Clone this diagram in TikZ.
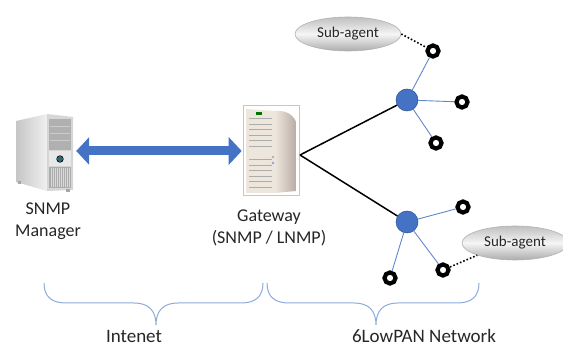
\documentclass[tikz,border=0pt]{standalone}
\usepackage{fontspec}
\setmainfont{Carlito}
\usetikzlibrary{arrows.meta,shapes.geometric}
\definecolor{netblue}{HTML}{4472C4}
\definecolor{netblueedge}{HTML}{2F528F}
\definecolor{bracecol}{HTML}{8EA9DB}
\definecolor{beige}{HTML}{EDE6DC}
\definecolor{beigedark}{HTML}{B9ADA6}
\definecolor{teal}{HTML}{1B6E78}
\definecolor{txt}{HTML}{262626}
\tikzset{
  label/.style={font=\fontsize{18}{22}\selectfont, text=txt, align=center, inner sep=0pt},
  biglabel/.style={label, font=\fontsize{19}{23}\selectfont},
  subagent/.style={ellipse, minimum width=106pt, minimum height=34pt, inner sep=0pt,
    draw=gray!60, line width=0.6pt, top color=gray!50, bottom color=gray!65, middle color=gray!8,
    font=\fontsize{15}{18}\selectfont, text=txt},
  ring/.style={circle, draw=black, line width=4.2pt, fill=white, minimum size=11pt, inner sep=0pt},
  hub/.style={circle, fill=netblue, draw=netblueedge, line width=0.5pt, minimum size=22pt, inner sep=0pt},
  uplink/.style={line width=1.5pt, black},
  leaf/.style={line width=0.9pt, netblue!85},
  agentlink/.style={line width=1.6pt, black, dotted},
  bracestroke/.style={line width=1pt, bracecol},
  box/.style={rectangle, inner sep=0pt, draw=none}
}
\begin{document}
\begin{tikzpicture}[x=1pt,y=-1pt]
\useasboundingbox (0,0) rectangle (563,347);

% ---------- SNMP manager (tower icon) ----------
\node[box, minimum width=58pt, minimum height=78pt] (mgr) at (44,152) {};
\shade[left color=gray!45, right color=gray!12] (16,121) -- (47,114) -- (47,191) -- (16,182) -- cycle;
\fill[gray!32] (47,114) -- (73,117) -- (73,190) -- (47,191) -- cycle;
\fill[gray!62] (49,119) rectangle (71,150);
\foreach \yy in {126,133,140} \draw[gray!40, line width=0.6pt] (50,\yy) -- (70,\yy);
\fill[gray!18] (49,151) rectangle (71,166);
\fill[teal] (60,159) circle (2.6);
\draw[black, line width=0.8pt] (60,159) circle (3.2);
\fill[gray!65] (49,167) rectangle (71,188);
\foreach \xx in {51,53,...,69} \draw[gray!30, line width=0.5pt] (\xx,168) -- (\xx,187);
\fill[gray!70] (18,181) rectangle (21,184);
\fill[gray!70] (66,189) rectangle (70,192);
\node[label] (mgrtxt) at (48,221) {SNMP\\Manager};

% ---------- Gateway (tower icon in frame) ----------
\node[box, minimum width=56pt, minimum height=90pt, draw=gray!45, fill=white, line width=0.6pt] (gw) at (271,150) {};
\fill[beige] (246,109) -- (275,111) -- (275,193) -- (246,193) -- cycle;
\shade[left color=beige, right color=beigedark] (275,111) .. controls (285,110) and (293,114) .. (296,122) -- (296,191) -- (275,193) -- cycle;
\fill[green!45!black] (256,112) rectangle (262,115);
\foreach \yy in {119,124.5,...,148} \draw[gray!65, line width=1pt] (249,\yy) -- (272,\yy);
\foreach \yy in {160,165.5,...,192} \draw[gray!65, line width=1pt] (249,\yy) -- (272,\yy);
\fill[gray!60] (273,157) circle (1.3);
\fill[blue!40] (273,163) circle (1.3);
\node[label] (gwtxt) at (269,228) {Gateway\\(SNMP / LNMP)};

% ---------- Manager <-> Gateway link ----------
\draw[line width=9pt, netblue, {Triangle[width=27pt,length=13pt]}-{Triangle[width=27pt,length=13pt]}]
  ([xshift=3pt,yshift=1pt]mgr.east) -- ([xshift=-1pt,yshift=1pt]mgr.east -| gw.west);

% ---------- 6LowPAN network ----------
\coordinate (gwport) at (300,155);
\node[hub] (h1) at (407,100) {};
\node[hub] (h2) at (407,222) {};
\node[ring] (r1) at (433,51) {};
\node[ring] (r2) at (462,102) {};
\node[ring] (r3) at (436,143) {};
\node[ring] (r4) at (463,207) {};
\node[ring] (r5) at (443,270) {};
\node[ring] (r6) at (390,278) {};
\node[subagent] (s1) at (348,34) {Sub-agent};
\node[subagent] (s2) at (515,243) {Sub-agent};

\draw[uplink] (gwport) -- (h1);
\draw[uplink] (gwport) -- (h2);
\draw[leaf] (h1) -- (r1);
\draw[leaf] (h1) -- (r2);
\draw[leaf] (h1) -- (r3);
\draw[leaf] (h2) -- (r4);
\draw[leaf] (h2) -- (r5);
\draw[leaf] (h2) -- (r6);
\draw[agentlink] (s1.east) -- (r1);
\draw[agentlink] (r5) -- (s2.south west);

% ---------- grouping braces ----------
\draw[bracestroke] (44,283) .. controls (44,297) and (52,303) .. (66,303) -- (134,303)
  .. controls (148,303) and (156,310) .. (156,325)
  .. controls (156,310) and (164,303) .. (178,303) -- (241,303)
  .. controls (255,303) and (263,297) .. (263,283);
\draw[bracestroke] (267,283) .. controls (267,297) and (275,303) .. (289,303) -- (354,303)
  .. controls (368,303) and (376,310) .. (376,325)
  .. controls (376,310) and (384,303) .. (398,303) -- (457,303)
  .. controls (471,303) and (479,297) .. (479,283);
\node[biglabel, anchor=base] (inet) at (134,343) {Intenet};
\node[biglabel, anchor=base] (lowpan) at (424,343) {6LowPAN Network};
\end{tikzpicture}
\end{document}
